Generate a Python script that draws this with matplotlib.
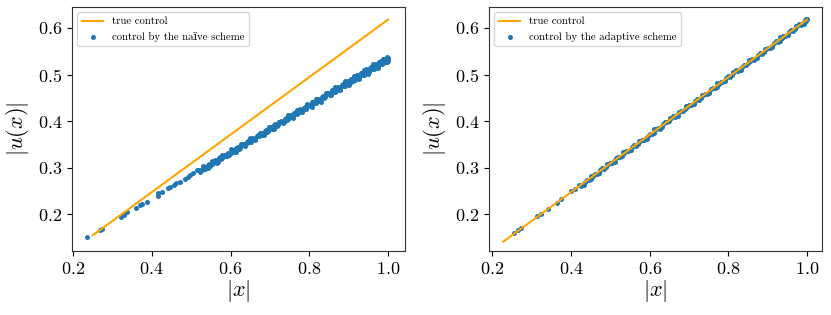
import matplotlib
matplotlib.use("Agg")
import matplotlib.pyplot as plt

plt.rcParams['font.family'] = ['cmr10', 'DejaVu Serif']
plt.rcParams['mathtext.fontset'] = 'cm'
plt.rcParams['axes.formatter.use_mathtext'] = True

# ---------------- data ----------------
# left panel: true control
true_x_left = [0.25, 1.0]
true_y_left = [0.1545, 0.618]

# left panel: naive scheme control (sparse low part)
naive_x_low = [0.236, 0.2675, 0.2736, 0.3218, 0.3285, 0.337, 0.3607, 0.3708, 0.3751, 0.3878,
               0.4148, 0.4157, 0.4259, 0.4411, 0.447, 0.4553, 0.4622, 0.4706, 0.485, 0.4909,
               0.4977, 0.506, 0.5147]
naive_y_low = [0.150, 0.167, 0.168, 0.194, 0.1985, 0.204, 0.2144, 0.2187, 0.2215, 0.2265,
               0.2387, 0.2445, 0.2473, 0.2553, 0.2574, 0.2624, 0.266, 0.2682, 0.2746, 0.279,
               0.2832, 0.2888, 0.2946]

naive_x_a = [0.520, 0.527, 0.533, 0.540, 0.546, 0.552, 0.558, 0.564, 0.570, 0.576,
             0.582, 0.588, 0.594, 0.600, 0.606, 0.612, 0.618, 0.624, 0.630, 0.636,
             0.642, 0.648, 0.654, 0.660, 0.666, 0.672, 0.678, 0.684, 0.690, 0.696,
             0.702, 0.708, 0.714, 0.720, 0.726, 0.732, 0.738, 0.744, 0.750, 0.756,
             0.762, 0.768, 0.774, 0.780, 0.786, 0.792, 0.798, 0.804, 0.810, 0.816,
             0.822, 0.828, 0.834, 0.840, 0.846, 0.852, 0.858, 0.864, 0.870, 0.876,
             0.882, 0.888, 0.894, 0.900, 0.906, 0.912, 0.918, 0.924, 0.930, 0.936,
             0.942, 0.948, 0.954, 0.960, 0.966, 0.972, 0.978, 0.984, 0.990, 0.996]
naive_y_a = [0.294, 0.294, 0.301, 0.302, 0.308, 0.307, 0.313, 0.314, 0.320, 0.319,
             0.326, 0.325, 0.332, 0.331, 0.338, 0.337, 0.344, 0.343, 0.350, 0.349,
             0.356, 0.355, 0.362, 0.361, 0.368, 0.367, 0.374, 0.373, 0.380, 0.379,
             0.387, 0.385, 0.393, 0.391, 0.399, 0.397, 0.405, 0.403, 0.411, 0.409,
             0.417, 0.415, 0.423, 0.421, 0.429, 0.427, 0.435, 0.433, 0.441, 0.439,
             0.448, 0.445, 0.454, 0.451, 0.460, 0.457, 0.466, 0.463, 0.472, 0.469,
             0.478, 0.475, 0.484, 0.481, 0.490, 0.487, 0.496, 0.493, 0.503, 0.499,
             0.509, 0.505, 0.515, 0.511, 0.521, 0.517, 0.527, 0.523, 0.533, 0.529]

naive_x_b = [0.523, 0.530, 0.536, 0.543, 0.549, 0.555, 0.561, 0.567, 0.573, 0.579,
             0.585, 0.591, 0.597, 0.603, 0.609, 0.615, 0.621, 0.627, 0.633, 0.639,
             0.645, 0.651, 0.657, 0.663, 0.669, 0.675, 0.681, 0.687, 0.693, 0.699,
             0.705, 0.711, 0.717, 0.723, 0.729, 0.735, 0.741, 0.747, 0.753, 0.759,
             0.765, 0.771, 0.777, 0.783, 0.789, 0.795, 0.801, 0.807, 0.813, 0.819,
             0.825, 0.831, 0.837, 0.843, 0.849, 0.855, 0.861, 0.867, 0.873, 0.879,
             0.885, 0.891, 0.897, 0.903, 0.909, 0.915, 0.921, 0.927, 0.933, 0.939,
             0.945, 0.951, 0.957, 0.963, 0.969, 0.975, 0.981, 0.987, 0.993, 0.999,
             0.997, 0.999, 0.995, 0.998, 0.992, 0.989]
naive_y_b = [0.291, 0.299, 0.298, 0.306, 0.304, 0.311, 0.316, 0.313, 0.322, 0.320,
             0.327, 0.330, 0.328, 0.337, 0.334, 0.343, 0.340, 0.348, 0.351, 0.350,
             0.358, 0.356, 0.364, 0.362, 0.370, 0.372, 0.371, 0.379, 0.377, 0.385,
             0.384, 0.391, 0.390, 0.397, 0.400, 0.399, 0.407, 0.405, 0.413, 0.411,
             0.419, 0.418, 0.425, 0.424, 0.431, 0.434, 0.432, 0.440, 0.438, 0.446,
             0.444, 0.452, 0.450, 0.458, 0.461, 0.458, 0.467, 0.464, 0.473, 0.470,
             0.479, 0.476, 0.486, 0.482, 0.491, 0.489, 0.498, 0.494, 0.504, 0.500,
             0.511, 0.506, 0.516, 0.512, 0.522, 0.518, 0.528, 0.524, 0.534, 0.530,
             0.538, 0.536, 0.526, 0.533, 0.527, 0.531]

naive_x_c = [0.530, 0.542, 0.554, 0.566, 0.578, 0.590, 0.602, 0.614, 0.626, 0.638,
             0.650, 0.662, 0.674, 0.686, 0.698, 0.710, 0.722, 0.734, 0.746, 0.758,
             0.770, 0.782, 0.794, 0.806, 0.818, 0.830, 0.842, 0.854, 0.866, 0.878,
             0.890, 0.902, 0.914, 0.926, 0.938, 0.950, 0.962, 0.974, 0.986, 0.998]
naive_y_c = [0.303, 0.299, 0.314, 0.310, 0.328, 0.324, 0.339, 0.334, 0.351, 0.347,
             0.364, 0.359, 0.375, 0.370, 0.388, 0.383, 0.399, 0.395, 0.412, 0.406,
             0.424, 0.419, 0.436, 0.431, 0.448, 0.442, 0.460, 0.455, 0.473, 0.466,
             0.485, 0.478, 0.497, 0.490, 0.510, 0.502, 0.522, 0.514, 0.534, 0.526]

# right panel: true control
true_x_right = [0.228, 1.0]
true_y_right = [0.141, 0.618]

# right panel: adaptive scheme control
adapt_x_low = [0.256, 0.266, 0.272, 0.313, 0.324, 0.341, 0.364, 0.375, 0.400, 0.410]
adapt_y_low = [0.160, 0.167, 0.171, 0.196, 0.201, 0.212, 0.224, 0.232, 0.250, 0.255]

adapt_x_a = [0.42, 0.43, 0.44, 0.45, 0.46, 0.47, 0.48, 0.49, 0.50, 0.51,
             0.52, 0.53, 0.54, 0.55, 0.56, 0.57, 0.58, 0.59, 0.60, 0.61,
             0.62, 0.63, 0.64, 0.65, 0.66, 0.67, 0.68, 0.69, 0.70, 0.71,
             0.72, 0.73, 0.74, 0.75, 0.76, 0.77, 0.78, 0.79, 0.80, 0.81,
             0.82, 0.83, 0.84, 0.85, 0.86, 0.87, 0.88, 0.89, 0.90, 0.91,
             0.92, 0.93, 0.94, 0.95, 0.96, 0.97, 0.98, 0.99, 1.00]
adapt_y_a = [0.262, 0.264, 0.274, 0.276, 0.286, 0.289, 0.299, 0.301, 0.311, 0.314,
             0.323, 0.326, 0.336, 0.338, 0.348, 0.351, 0.360, 0.363, 0.373, 0.375,
             0.385, 0.388, 0.397, 0.400, 0.410, 0.412, 0.422, 0.425, 0.435, 0.437,
             0.447, 0.449, 0.459, 0.462, 0.472, 0.474, 0.484, 0.487, 0.496, 0.499,
             0.509, 0.511, 0.521, 0.524, 0.533, 0.536, 0.546, 0.548, 0.558, 0.561,
             0.571, 0.573, 0.583, 0.585, 0.595, 0.598, 0.608, 0.610, 0.620]

adapt_x_b = [0.425, 0.435, 0.445, 0.455, 0.465, 0.475, 0.485, 0.495, 0.505, 0.515,
             0.525, 0.535, 0.545, 0.555, 0.565, 0.575, 0.585, 0.595, 0.605, 0.615,
             0.625, 0.635, 0.645, 0.655, 0.665, 0.675, 0.685, 0.695, 0.705, 0.715,
             0.725, 0.735, 0.745, 0.755, 0.765, 0.775, 0.785, 0.795, 0.805, 0.815,
             0.825, 0.835, 0.845, 0.855, 0.865, 0.875, 0.885, 0.895, 0.905, 0.915,
             0.925, 0.935, 0.945, 0.955, 0.965, 0.975, 0.985, 0.995, 0.998, 0.997, 0.993]
adapt_y_b = [0.261, 0.270, 0.273, 0.283, 0.286, 0.295, 0.298, 0.307, 0.310, 0.320,
             0.322, 0.332, 0.335, 0.344, 0.347, 0.357, 0.359, 0.369, 0.372, 0.382,
             0.384, 0.394, 0.397, 0.406, 0.409, 0.419, 0.421, 0.431, 0.434, 0.443,
             0.446, 0.456, 0.458, 0.468, 0.471, 0.480, 0.483, 0.493, 0.495, 0.505,
             0.508, 0.517, 0.520, 0.530, 0.532, 0.542, 0.545, 0.554, 0.557, 0.567,
             0.569, 0.579, 0.582, 0.591, 0.594, 0.604, 0.606, 0.616, 0.614, 0.619, 0.611]

adapt_x_c = [0.432, 0.452, 0.472, 0.492, 0.512, 0.532, 0.552, 0.572, 0.592, 0.612,
             0.632, 0.652, 0.672, 0.692, 0.712, 0.732, 0.752, 0.772, 0.792, 0.812,
             0.832, 0.852, 0.872, 0.892, 0.912, 0.932, 0.952, 0.972, 0.992]
adapt_y_c = [0.263, 0.283, 0.288, 0.308, 0.312, 0.333, 0.337, 0.357, 0.362, 0.382,
             0.387, 0.407, 0.411, 0.432, 0.436, 0.456, 0.461, 0.481, 0.485, 0.506,
             0.510, 0.531, 0.535, 0.555, 0.560, 0.580, 0.584, 0.605, 0.609]

x_ticks = [0.2, 0.4, 0.6, 0.8, 1.0]
y_ticks = [0.2, 0.3, 0.4, 0.5, 0.6]

naive_x = naive_x_low + naive_x_a + naive_x_b + naive_x_c
naive_y = naive_y_low + naive_y_a + naive_y_b + naive_y_c
adapt_x = adapt_x_low + adapt_x_a + adapt_x_b + adapt_x_c
adapt_y = adapt_y_low + adapt_y_a + adapt_y_b + adapt_y_c

# ---------------- figure ----------------
fig = plt.figure(figsize=(8.31, 3.15), dpi=100)
ax1 = fig.add_axes([0.0866, 0.2032, 0.4008, 0.7746])
ax2 = fig.add_axes([0.5884, 0.2032, 0.4011, 0.7746])

orange = '#ffa500'
blue = '#1f77b4'

panels = [
    (ax1, true_x_left, true_y_left, naive_x, naive_y, 'control by the naïve scheme'),
    (ax2, true_x_right, true_y_right, adapt_x, adapt_y, 'control by the adaptive scheme'),
]
for ax, tx, ty, sx, sy, lab in panels:
    ax.plot(tx, ty, color=orange, lw=1.5, label='true control', zorder=3)
    ax.scatter(sx, sy, s=13, color=blue, label=lab, zorder=2, linewidths=0)
    ax.set_xticks(x_ticks)
    ax.set_yticks(y_ticks)
    ax.tick_params(labelsize=13)
    ax.set_xlabel(r'$|x|$', fontsize=16, labelpad=1)
    ax.set_ylabel(r'$|u(x)|$', fontsize=16, labelpad=5)
    ax.legend(loc='upper left', fontsize=7.8)
    for sp in ax.spines.values():
        sp.set_color('#333333')

ax1.set_xlim(0.1975, 1.043)
ax2.set_xlim(0.1916, 1.0386)
for ax in (ax1, ax2):
    ax.set_ylim(0.121, 0.645)

fig.savefig('out.png', dpi=100)
